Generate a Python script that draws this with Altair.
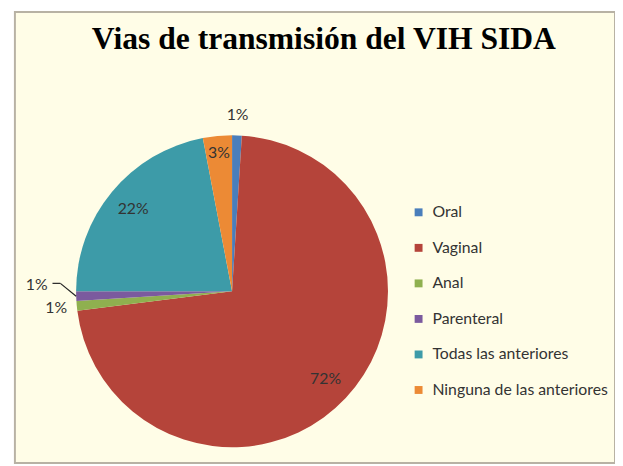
import altair as alt
import pandas as pd

categories = ["Oral", "Vaginal", "Anal", "Parenteral", "Todas las anteriores", "Ninguna de las anteriores"]
values = [1, 72, 1, 1, 22, 3]
labels = ["1%", "72%", "1%", "1%", "22%", "3%"]
colors = ["#4A7EBB", "#B5443A", "#8FB04F", "#7B5A9E", "#3D9BA8", "#EC8A35"]

df = pd.DataFrame({
    "cat": categories,
    "value": values,
    "label": labels,
    "idx": list(range(len(categories))),
})

CX, CY, R = 220, 283, 158
FONT = "Lato"
TXT = "#333333"

theta = alt.Theta("value:Q", stack=True)
order = alt.Order("idx:Q")
color = alt.Color(
    "cat:N",
    scale=alt.Scale(domain=categories, range=colors),
    sort=categories,
    legend=alt.Legend(
        title=None, orient="none", legendX=401, legendY=195,
        symbolType="square", symbolSize=64, symbolStrokeWidth=0,
        labelFont=FONT, labelFontSize=16, labelColor=TXT, labelLimit=400,
        rowPadding=20, labelOffset=6,
    ),
)

base = alt.Chart(df)

pie = base.mark_arc(outerRadius=R, stroke=None).encode(
    theta=theta, color=color, order=order,
    x=alt.value(CX), y=alt.value(CY),
)


def label_layer(members, radius, dy=0):
    return base.mark_text(radius=radius, dy=dy, font=FONT, fontSize=16, color=TXT).encode(
        theta=theta, order=order,
        x=alt.value(CX), y=alt.value(CY),
        text=alt.condition(
            alt.FieldOneOfPredicate(field="cat", oneOf=members),
            alt.Text("label:N"), alt.value(""),
        ),
    )


inside = label_layer(["Vaginal", "Todas las anteriores"], 130)
inside3 = label_layer(["Ninguna de las anteriores"], 141)
outside = label_layer(["Oral", "Anal"], 179)
parent = label_layer(["Parenteral"], 198, dy=-13)

leader_base = base.transform_joinaggregate(
    total="sum(value)"
).transform_window(
    cum="sum(value)", sort=[alt.SortField("idx")], frame=[None, 0]
).transform_filter(
    alt.datum.cat == "Parenteral"
).transform_calculate(
    th="(datum.cum - datum.value/2) / datum.total * 2 * PI",
).transform_calculate(
    ex=f"{CX} + {R}*sin(datum.th)",
    ey=f"{CY} - {R}*cos(datum.th)",
).transform_calculate(
    bx="datum.ex - 16", by="datum.ey - 13",
).transform_calculate(
    tx="datum.bx - 8",
)

leader1 = leader_base.mark_rule(color="#222222", strokeWidth=1.2).encode(
    x=alt.X("ex:Q", scale=None), y=alt.Y("ey:Q", scale=None),
    x2="bx:Q", y2="by:Q",
)
leader2 = leader_base.mark_rule(color="#222222", strokeWidth=1.2).encode(
    x=alt.X("bx:Q", scale=None), y=alt.Y("by:Q", scale=None),
    x2="tx:Q", y2="by:Q",
)

title = alt.Chart(alt.Data(values=[{"t": "Vias de transmisión del VIH SIDA"}])).mark_text(
    font="Liberation Serif", fontWeight="bold", fontSize=32, color="#000000",
    align="center", baseline="alphabetic",
).encode(text="t:N", x=alt.value(313), y=alt.value(38))

chart = alt.layer(pie, inside, inside3, outside, parent, leader1, leader2, title).properties(
    width=615, height=458,
    autosize=alt.AutoSizeParams(type="fit", contains="padding"),
    padding={"left": 7, "top": 1, "right": 0, "bottom": 0},
    background="#FFFFFF",
).configure_view(
    fill="#FFFDE7", stroke="#B8B2A4", strokeWidth=2,
)

chart.save("out.html", embed_options={"renderer": "svg", "actions": False})
